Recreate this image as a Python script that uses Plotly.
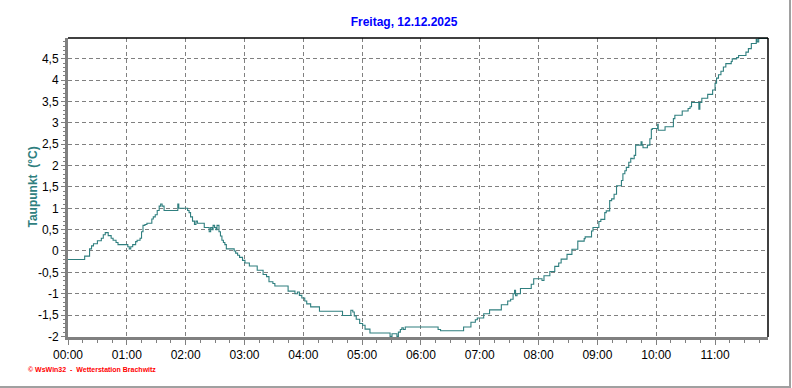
import plotly.graph_objects as go

# time in minutes since 00:00, dew point in °C
minutes = [0, 17, 22, 24, 26, 30, 34, 36, 38, 41, 44, 46, 49, 51, 61, 62.5, 64, 66, 69, 70.5,
           73.5, 75, 76.5, 78.5, 80.5, 85.5, 87, 89, 91, 93, 94.5, 96, 98, 112, 113, 122,
           123.5, 125, 127, 129, 130.5, 132, 139, 144, 145.5, 147, 148, 149.5, 151, 152,
           154, 155.5, 157, 158.5, 160, 161.5, 169.5, 171, 173, 175, 178, 180.5, 185, 193,
           199, 202.5, 205, 209, 211, 224.5, 231.5, 234, 236, 238.5, 241.5, 243.5, 247.5,
           256.5, 280, 288.5, 290.5, 292, 294, 297.5, 300.5, 303, 308, 328.5, 330.5, 335.5,
           337, 339, 340.5, 342, 344, 377.5, 380, 403.5, 411, 415.5, 417.5, 424, 430, 442,
           448.5, 451.5, 454, 455.5, 456.5, 458, 461.5, 472.5, 475, 483.5, 485.5, 491.5,
           496.5, 500.5, 503, 509, 514, 520, 526.5, 527.5, 534, 535.5, 541.5, 543.5, 547.5,
           549, 552.5, 554.5, 557, 559.5, 564.5, 566, 568, 569.5, 572, 574, 575.5, 577.5,
           579, 584.5, 585.5, 586.5, 591, 593.5, 595, 596, 601.5, 602, 609, 617.5, 619,
           626.5, 632.5, 634.5, 636, 643.5, 644.5, 646.5, 652.5, 657.5, 660, 661.5, 663.5,
           666, 668.5, 671, 676.5, 677.5, 682, 684, 691.5, 694, 697, 702, 703, 704.5, 716]
dewpoint = [-0.2, -0.12, 0.05, 0.12, 0.17, 0.24, 0.3, 0.38, 0.43, 0.36, 0.3, 0.25, 0.2, 0.15,
            0.1, 0.05, 0.1, 0.15, 0.22, 0.25, 0.3, 0.45, 0.6, 0.62, 0.65, 0.75, 0.8, 0.85,
            0.95, 1.05, 1.1, 1.05, 0.95, 1.1, 1.0, 0.95, 0.9, 0.8, 0.7, 0.62, 0.7, 0.65,
            0.55, 0.45, 0.55, 0.5, 0.6, 0.55, 0.5, 0.6, 0.45, 0.35, 0.25, 0.2, 0.15, 0.05,
            0.0, -0.05, -0.1, -0.15, -0.22, -0.28, -0.35, -0.45, -0.55, -0.6, -0.72, -0.76,
            -0.82, -0.94, -1.0, -0.96, -1.04, -1.1, -1.17, -1.24, -1.31, -1.41, -1.51, -1.39,
            -1.43, -1.52, -1.6, -1.7, -1.74, -1.83, -1.92, -2.0, -1.94, -2.0, -1.9, -1.84,
            -1.8, -1.84, -1.78, -1.84, -1.87, -1.78, -1.67, -1.61, -1.57, -1.47, -1.38,
            -1.26, -1.17, -1.13, -1.0, -0.92, -1.05, -1.0, -0.88, -0.78, -0.65, -0.69, -0.58,
            -0.48, -0.36, -0.28, -0.19, -0.08, 0.04, 0.23, 0.29, 0.33, 0.47, 0.55, 0.69,
            0.74, 0.9, 0.94, 1.18, 1.22, 1.33, 1.53, 1.65, 1.81, 1.88, 1.96, 2.08, 2.17,
            2.16, 2.24, 2.48, 2.56, 2.48, 2.42, 2.48, 2.63, 2.85, 2.87, 2.97, 2.83, 2.91,
            3.1, 3.18, 3.28, 3.34, 3.38, 3.48, 3.32, 3.48, 3.58, 3.67, 3.77, 3.93, 4.05,
            4.13, 4.21, 4.31, 4.39, 4.44, 4.5, 4.53, 4.58, 4.66, 4.74, 4.86, 4.96, 4.9,
            4.98, 4.98]

x_tick_labels = ["00:00", "01:00", "02:00", "03:00", "04:00", "05:00",
                 "06:00", "07:00", "08:00", "09:00", "10:00", "11:00"]
y_tick_vals = [-2, -1.5, -1, -0.5, 0, 0.5, 1, 1.5, 2, 2.5, 3, 3.5, 4, 4.5]
y_tick_labels = [("%g" % v).replace(".", ",") for v in y_tick_vals]

title_text = "Freitag, 12.12.2025"
y_title = "Taupunkt  (°C)"
footer = "© WsWin32  -  Wetterstation Brachwitz"

W, H = 792, 388
L, R, T, B = 68, 24, 38, 51

fig = go.Figure()
fig.add_trace(go.Scatter(x=minutes, y=dewpoint, mode="lines", line_shape="hv",
                         line=dict(color="#2f7f7f", width=1.1), hoverinfo="skip"))

grid = dict(showgrid=True, gridcolor="#808080", gridwidth=1, griddash="4px,3px")
fig.update_xaxes(range=[0, 714], tickvals=[i * 60 for i in range(len(x_tick_labels))],
                 ticktext=x_tick_labels, ticks="outside", ticklen=5, tickcolor="#808080",
                 showline=True, linecolor="#808080", linewidth=3, zeroline=False,
                 minor=dict(dtick=15, tick0=0, ticks="outside", ticklen=3, tickcolor="#808080",
                            showgrid=False),
                 tickfont=dict(family="Liberation Sans", size=12, color="black"), **grid)
fig.update_yaxes(range=[-2.015, 4.99], tickvals=y_tick_vals, ticktext=y_tick_labels,
                 ticks="outside", ticklen=4, tickcolor="#808080",
                 showline=True, linecolor="#808080", linewidth=3, zeroline=False,
                 minor=dict(dtick=0.1, tick0=0, ticks="outside", ticklen=2, tickcolor="#808080",
                            showgrid=False),
                 tickfont=dict(family="Liberation Sans", size=12, color="black"), **grid)

pw = W - L - R
ph = H - T - B
shapes = [
    dict(type="line", xref="paper", yref="paper", x0=0, x1=1, y0=1, y1=1,
         line=dict(color="black", width=1.5)),
    dict(type="line", xref="paper", yref="paper", x0=1, x1=1, y0=0, y1=1,
         line=dict(color="black", width=1.5)),
    dict(type="line", xref="paper", yref="paper", x0=-L / pw, x1=(W - 1 - L) / pw,
         y0=-(387 - (H - B)) / ph, y1=-(387 - (H - B)) / ph,
         line=dict(color="#a0a0a0", width=2)),
    dict(type="line", xref="paper", yref="paper", x0=(790 - L) / pw, x1=(790 - L) / pw,
         y0=-(387 - (H - B)) / ph, y1=(H - B) / ph,
         line=dict(color="#a0a0a0", width=2)),
]

annotations = [
    dict(text="<b>" + y_title + "</b>", xref="paper", yref="paper",
         x=(32 - L) / pw, y=0.5, xanchor="center", yanchor="middle", textangle=-90,
         showarrow=False, font=dict(family="Liberation Sans", size=12, color="#2f7f7f")),
    dict(text="<b>" + footer + "</b>", xref="paper", yref="paper",
         x=(26 - L) / pw, y=-(369 - (H - B)) / ph, xanchor="left", yanchor="middle",
         showarrow=False, font=dict(family="Liberation Sans", size=7, color="#ff0000")),
]

fig.update_layout(
    width=W, height=H, margin=dict(l=L, r=R, t=T, b=B),
    paper_bgcolor="white", plot_bgcolor="white", showlegend=False,
    title=dict(text="<b>" + title_text + "</b>", x=404 / W, xanchor="center",
               y=1 - 22 / H, yanchor="middle", yref="container",
               font=dict(family="Liberation Sans", size=12, color="#0000ff")),
    shapes=shapes, annotations=annotations,
)

fig.write_html("out.html")
